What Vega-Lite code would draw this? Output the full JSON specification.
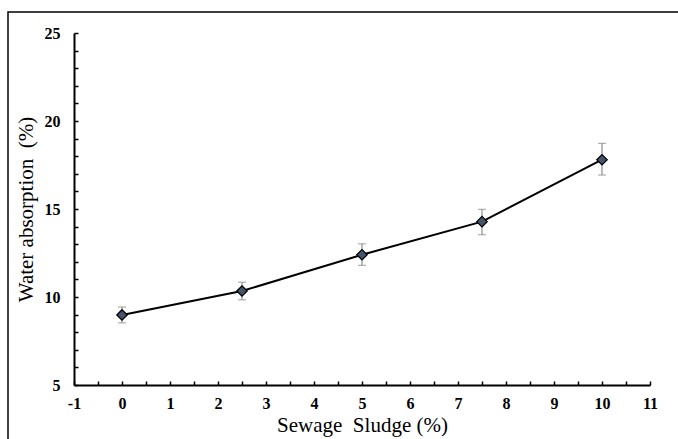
{
  "$schema": "https://vega.github.io/schema/vega-lite/v6.json",
  "width": 680,
  "height": 440,
  "padding": {"left": 8, "top": 12, "right": 0, "bottom": 0},
  "autosize": {"type": "none"},
  "background": "white",
  "config": {
    "view": {"stroke": "black", "strokeWidth": 1.5},
    "font": "Liberation Serif"
  },
  "data": {
    "values": [
      {"sludge": 0, "wa": 8.98, "lo": 8.53, "hi": 9.43},
      {"sludge": 2.5, "wa": 10.34, "lo": 9.84, "hi": 10.84},
      {"sludge": 5, "wa": 12.4, "lo": 11.8, "hi": 13.02},
      {"sludge": 7.5, "wa": 14.28, "lo": 13.54, "hi": 14.98},
      {"sludge": 10, "wa": 17.8, "lo": 16.93, "hi": 18.73}
    ]
  },
  "encoding": {
    "x": {
      "field": "sludge",
      "type": "quantitative",
      "scale": {"domain": [-1, 11], "range": [66, 642], "nice": false, "zero": false},
      "axis": {
        "title": "Sewage\u00a0\u00a0Sludge (%)",
        "orient": "bottom",
        "offset": -67,
        "values": [-1, -0.5, 0, 0.5, 1, 1.5, 2, 2.5, 3, 3.5, 4, 4.5, 5, 5.5, 6, 6.5, 7, 7.5, 8, 8.5, 9, 9.5, 10, 10.5, 11],
        "labelExpr": "datum.value % 1 === 0 ? toString(datum.value) : ''",
        "grid": false,
        "domainColor": "black",
        "domainWidth": 2,
        "tickColor": "black",
        "tickWidth": 1.5,
        "tickSize": -4,
        "labelFont": "Liberation Serif",
        "labelFontWeight": "bold",
        "labelFontSize": 16,
        "labelColor": "black",
        "labelPadding": 14,
        "labelFlush": false,
        "labelOverlap": false,
        "titleFont": "Liberation Serif",
        "titleFontWeight": "normal",
        "titleFontSize": 21,
        "titleColor": "black",
        "titlePadding": 3
      }
    },
    "y": {
      "type": "quantitative",
      "scale": {"domain": [5, 25], "range": [373, 21], "nice": false, "zero": false},
      "axis": {
        "title": "Water absorption\u00a0\u00a0(%)",
        "orient": "left",
        "offset": -66,
        "values": [5, 6, 7, 8, 9, 10, 11, 12, 13, 14, 15, 16, 17, 18, 19, 20, 21, 22, 23, 24, 25],
        "labelExpr": "datum.value % 5 === 0 ? toString(datum.value) : ''",
        "grid": false,
        "domainColor": "black",
        "domainWidth": 2,
        "tickColor": "black",
        "tickWidth": 1.5,
        "tickSize": -4,
        "labelFont": "Liberation Serif",
        "labelFontWeight": "bold",
        "labelFontSize": 16,
        "labelColor": "black",
        "labelPadding": 18,
        "labelOverlap": false,
        "labelFlush": false,
        "titleFont": "Liberation Serif",
        "titleFontWeight": "normal",
        "titleFontSize": 21,
        "titleColor": "black",
        "titlePadding": 8
      }
    }
  },
  "layer": [
    {
      "mark": {"type": "errorbar", "color": "#8c8c8c", "thickness": 1.2, "ticks": {"size": 8, "color": "#8c8c8c", "thickness": 1.2}},
      "encoding": {
        "y": {"field": "lo", "type": "quantitative"},
        "y2": {"field": "hi"}
      }
    },
    {
      "mark": {"type": "line", "color": "black", "strokeWidth": 2},
      "encoding": {"y": {"field": "wa", "type": "quantitative"}}
    },
    {
      "mark": {"type": "point", "shape": "diamond", "filled": true, "fill": "#44546a", "stroke": "black", "strokeWidth": 1.2, "size": 110, "opacity": 1},
      "encoding": {"y": {"field": "wa", "type": "quantitative"}}
    }
  ]
}
